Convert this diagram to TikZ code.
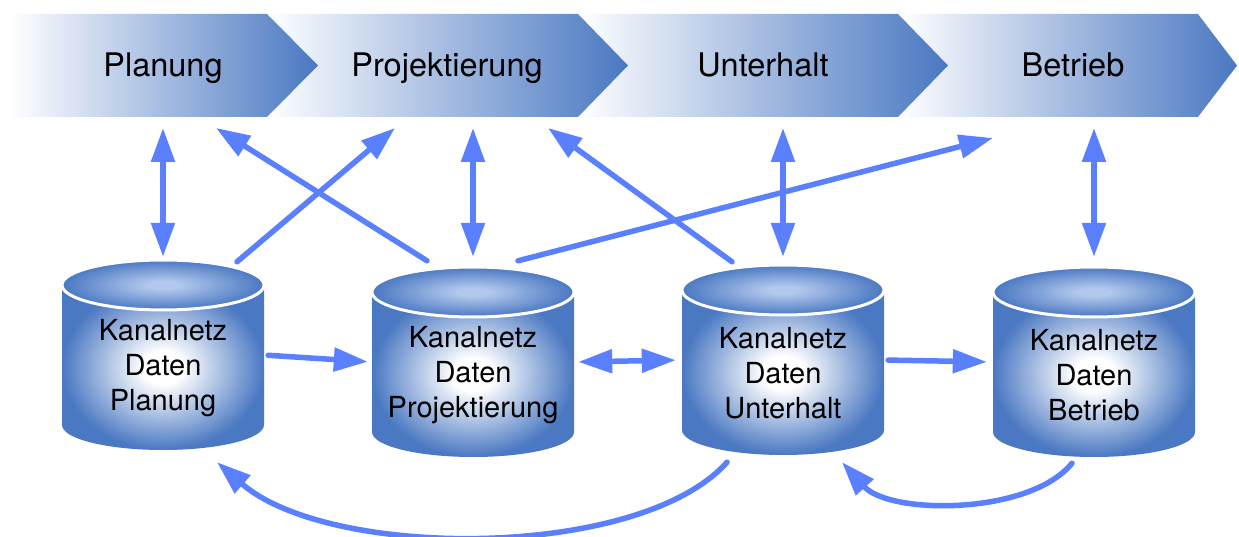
\documentclass[tikz,border=0pt]{standalone}
\usepackage{fontspec}
\setmainfont{TeX Gyre Heros}
\usetikzlibrary{arrows.meta,calc}

\definecolor{dblue}{RGB}{74,120,194}
\definecolor{lidblue}{RGB}{178,200,236}
\definecolor{arrowc}{RGB}{90,127,255}

% soft glow for the store bodies and lids
\pgfdeclareradialshading{dbglow}{\pgfpoint{0bp}{0bp}}{%
  color(0bp)=(white); color(5bp)=(white); color(25bp)=(dblue); color(50bp)=(dblue)}
\pgfdeclareradialshading{lidglow}{\pgfpoint{0bp}{0bp}}{%
  color(0bp)=(lidblue); color(4bp)=(lidblue); color(25bp)=(dblue); color(50bp)=(dblue)}

\tikzset{
  phasebox/.style={shade, left color=white, right color=dblue},
  phaselabel/.style={inner sep=0pt, anchor=base, font=\fontsize{32.5}{36}\selectfont},
  dbbox/.style={inner sep=0pt, minimum width=202pt, minimum height=190pt},
  dbtext/.style={align=center, inner sep=0pt, font=\fontsize{29}{35}\selectfont},
  dbbody/.style={shade, shading=dbglow},
  dblid/.style={shade, shading=lidglow, draw=white, line width=3pt},
  link/.style={draw=arrowc, line width=5.5pt, line cap=round,
    -{Triangle[length=34pt,width=23pt]}},
  twoway/.style={link, {Triangle[length=34pt,width=23pt]}-{Triangle[length=34pt,width=23pt]}}
}

% database cylinder: #1 name, #2 centre x, #3 lid centre y, #4 text
\newcommand{\dbcyl}[4]{%
  \path[dbbody] ({#2-101},#3) -- ({#2-101},{#3+140})
    arc[start angle=180, end angle=360, x radius=101pt, y radius=25pt]
    -- ({#2+101},#3) -- cycle;
  \path[dblid] (#2,#3) ellipse[x radius=101pt, y radius=25pt];
  \node[dbbox] (#1) at (#2,{#3+70}) {};
  \node[dbtext] (#1t) at (#2,{#3+83}) {#4};
}

\begin{document}
\begin{tikzpicture}[x=1pt,y=-1pt]
\useasboundingbox (0,0) rectangle (1239,537);

% process chevrons, drawn right to left so each tip lies on the next box
\path[phasebox] (898,14) -- (1198,14) -- (1237,65.5) -- (1198,117) -- (898,117) -- cycle;
\path[phasebox] (578,14) -- (898,14) -- (948,65.5) -- (898,117) -- (578,117) -- cycle;
\path[phasebox] (267,14) -- (578,14) -- (628,65.5) -- (578,117) -- (267,117) -- cycle;
\path[phasebox] (10,14) -- (267,14) -- (318,65.5) -- (267,117) -- (10,117) -- cycle;

\node[phaselabel] (ch1) at (163,76.5) {Planung};
\node[phaselabel] (ch2) at (447,76.5) {Projektierung};
\node[phaselabel] (ch3) at (763,76.5) {Unterhalt};
\node[phaselabel] (ch4) at (1073,76.5) {Betrieb};
\coordinate (band) at (0,117);

% data stores
\dbcyl{db1}{163}{285}{Kanalnetz\\Daten\\Planung}
\dbcyl{db2}{473}{292}{Kanalnetz\\Daten\\Projektierung}
\dbcyl{db3}{783}{290}{Kanalnetz\\Daten\\Unterhalt}
\dbcyl{db4}{1094}{292}{Kanalnetz\\Daten\\Betrieb}

% phase <-> own data store
\draw[twoway, shorten <=3pt, shorten >=11pt] (db1.north) -- (db1.north |- band);
\draw[twoway, shorten <=10pt, shorten >=11pt] (db2.north) -- (db2.north |- band);
\draw[twoway, shorten <=8pt, shorten >=11pt] (db3.north) -- (db3.north |- band);
\draw[twoway, shorten <=10pt, shorten >=11pt] (db4.north) -- (db4.north |- band);

% data store -> other phases
\draw[link] ($(db1.north)+(74,2)$) -- ($(ch2 |- band)+(-52,11)$);
\draw[link] ($(db2.north)+(-46,-6)$) -- ($(ch1 |- band)+(53,11)$);
\draw[link] ($(db2.north)+(45,-6)$) -- ($(ch4 |- band)+(-80,21)$);
\draw[link] ($(db3.north)+(-51,-3)$) -- ($(ch2 |- band)+(101,11)$);

% data flow between the stores
\draw[link, shorten <=4pt, shorten >=4pt] (db1.east) -- (db2.west);
\draw[twoway, shorten <=4pt, shorten >=6pt] (db2.east) -- (db3.west);
\draw[link, shorten <=4pt, shorten >=6pt] (db3.east) -- (db4.west);

% feedback below the stores
\draw[link] ($(db3.south)+(-56,7)$) .. controls +(-87,98) and +(113,98) .. ($(db1.south)+(54,12)$);
\draw[link] ($(db4.south)+(-22,6)$) .. controls +(-42,52) and +(48,53) .. ($(db3.south)+(59,7)$);
\end{tikzpicture}
\end{document}
